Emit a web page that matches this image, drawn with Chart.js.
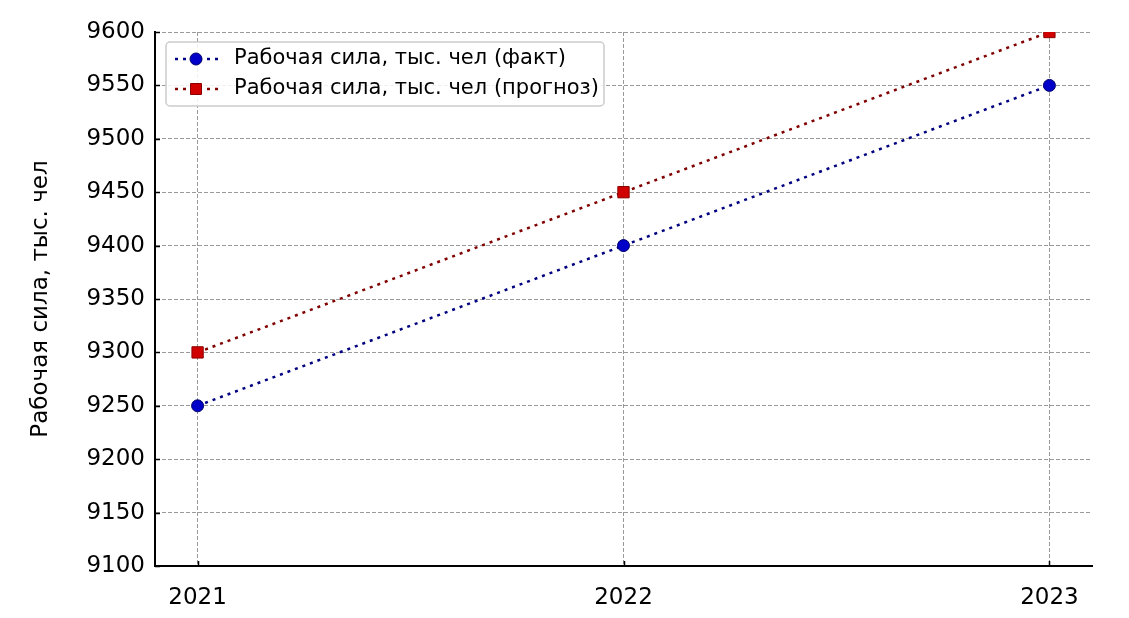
<!DOCTYPE html>
<html>
<head>
<meta charset="utf-8">
<script src="https://cdn.jsdelivr.net/npm/chart.js@4/dist/chart.umd.min.js"></script>
<style>
html,body{margin:0;padding:0;background:#fff;}
#wrap{width:1129px;height:618px;}
</style>
</head>
<body>
<div id="wrap"><canvas id="c" width="1129" height="618"></canvas></div>
<script>
const years = [2021, 2022, 2023];
const factValues = [9250, 9400, 9550];
const forecastValues = [9300, 9450, 9600];
const yTicks = [9100, 9150, 9200, 9250, 9300, 9350, 9400, 9450, 9500, 9550, 9600];
const seriesLabels = ['Рабочая сила, тыс. чел (факт)', 'Рабочая сила, тыс. чел (прогноз)'];
const yTitle = 'Рабочая сила, тыс. чел';

const FONT = "'DejaVu Sans', sans-serif";

const inwardTicks = {
  id: 'inwardTicks',
  afterDatasetsDraw(chart) {
    const ctx = chart.ctx;
    const a = chart.chartArea;
    const xs = chart.scales.x, ys = chart.scales.y;
    ctx.save();
    ctx.strokeStyle = '#000';
    ctx.lineWidth = 1.5;
    ctx.beginPath();
    ys.ticks.forEach(t => {
      const y = Math.round(ys.getPixelForValue(t.value)) + 0.5;
      ctx.moveTo(a.left, y);
      ctx.lineTo(a.left + 5, y);
    });
    xs.ticks.forEach(t => {
      const x = Math.round(xs.getPixelForValue(t.value)) + 0.5;
      ctx.moveTo(x, a.bottom);
      ctx.lineTo(x, a.bottom - 5);
    });
    ctx.stroke();
    ctx.restore();
  }
};

const legendPlugin = {
  id: 'insideLegend',
  afterDraw(chart) {
    const ctx = chart.ctx;
    const x0 = 166, y0 = 42, w = 438, h = 64, r = 4;
    ctx.save();
    ctx.beginPath();
    ctx.roundRect(x0, y0, w, h, r);
    ctx.fillStyle = 'rgba(255,255,255,0.85)';
    ctx.fill();
    ctx.strokeStyle = '#cccccc';
    ctx.lineWidth = 1.5;
    ctx.stroke();
    const rows = [59, 89];
    chart.data.datasets.forEach((ds, i) => {
      const y = rows[i];
      ctx.save();
      ctx.setLineDash([3, 5]);
      ctx.strokeStyle = ds.borderColor;
      ctx.lineWidth = 2.5;
      ctx.beginPath();
      ctx.moveTo(175, y);
      ctx.lineTo(218, y);
      ctx.stroke();
      ctx.restore();
      ctx.fillStyle = ds.pointBackgroundColor;
      ctx.strokeStyle = ds.pointBorderColor;
      ctx.lineWidth = 1;
      ctx.beginPath();
      if (ds.pointStyle === 'rect') {
        ctx.rect(196 - 5.5, y - 5.5, 11, 11);
      } else {
        ctx.arc(196, y, 6, 0, Math.PI * 2);
      }
      ctx.fill();
      ctx.stroke();
      ctx.fillStyle = '#000';
      ctx.font = '21px ' + FONT;
      ctx.textBaseline = 'middle';
      ctx.textAlign = 'left';
      ctx.fillText(ds.label, 234, y);
    });
    ctx.restore();
  }
};

new Chart(document.getElementById('c'), {
  type: 'line',
  data: {
    datasets: [
      {
        label: seriesLabels[0],
        data: years.map((y, i) => ({x: y, y: factValues[i]})),
        borderColor: '#000080',
        borderWidth: 2.5,
        borderDash: [3, 5],
        pointStyle: 'circle',
        pointRadius: 6,
        pointBackgroundColor: '#0000c8',
        pointBorderColor: '#00006e',
        pointBorderWidth: 1,
        clip: 0,
        tension: 0
      },
      {
        label: seriesLabels[1],
        data: years.map((y, i) => ({x: y, y: forecastValues[i]})),
        borderColor: '#800000',
        borderWidth: 2.5,
        borderDash: [3, 5],
        pointStyle: 'rect',
        pointRadius: 8,
        pointBackgroundColor: '#d00000',
        pointBorderColor: '#8b0000',
        pointBorderWidth: 1,
        clip: 0,
        tension: 0
      }
    ]
  },
  options: {
    responsive: false,
    animation: false,
    devicePixelRatio: 1,
    layout: {padding: {left: 23, top: 32, right: 37, bottom: 0}},
    plugins: {legend: {display: false}, tooltip: {enabled: false}},
    scales: {
      x: {
        type: 'linear',
        min: 2020.9,
        max: 2023.1,
        afterBuildTicks(scale) { scale.ticks = years.map(v => ({value: v})); },
        afterFit(scale) { scale.height = 52; },
        ticks: {
          color: '#000',
          font: {family: FONT, size: 23},
          padding: 18,
          callback: v => String(v),
          maxRotation: 0,
          autoSkip: false
        },
        grid: {color: '#9a9a9a', lineWidth: 1, drawTicks: false},
        border: {display: true, color: '#000', width: 2, dash: [4, 2]}
      },
      y: {
        type: 'linear',
        min: 9100,
        max: 9600,
        afterBuildTicks(scale) { scale.ticks = yTicks.map(v => ({value: v})); },
        afterFit(scale) { scale.width = 132; },
        ticks: {
          color: '#000',
          font: {family: FONT, size: 23},
          padding: 10,
          callback: v => String(v)
        },
        grid: {color: '#9a9a9a', lineWidth: 1, drawTicks: false},
        border: {display: true, color: '#000', width: 2, dash: [4, 2]},
        title: {
          display: true,
          text: yTitle,
          color: '#000',
          font: {family: FONT, size: 23},
          padding: 4
        }
      }
    }
  },
  plugins: [inwardTicks, legendPlugin]
});
</script>
</body>
</html>
